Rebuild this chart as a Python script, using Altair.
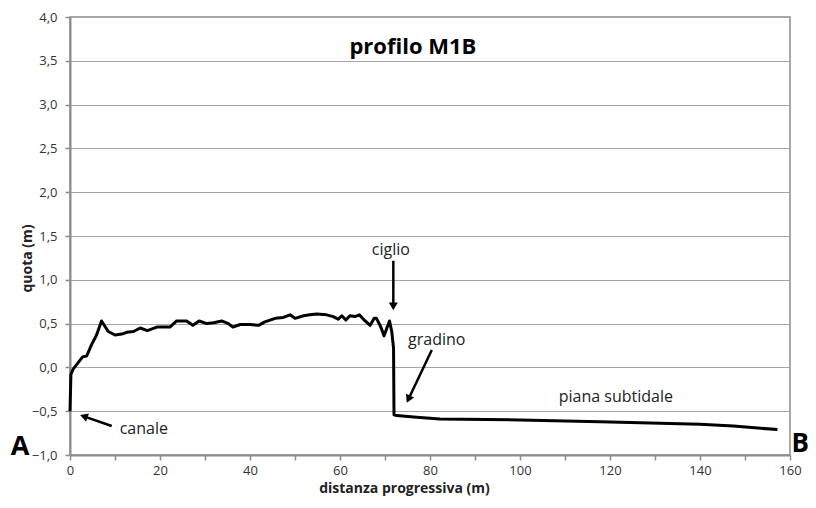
import altair as alt
import pandas as pd

# profile data (distanza progressiva, quota)
dist = [0, 0.2, 0.7, 2.8, 3.7, 4.8, 5.9, 7.0, 8.5, 10.0, 11.5, 12.6, 14.1, 15.6, 17.2,
        19.3, 22.2, 23.7, 25.9, 27.3, 28.7, 30.4, 31.9, 33.7, 35.2, 36.2, 37.8, 40.0,
        41.9, 43.3, 45.6, 47.4, 48.9, 50.0, 51.9, 53.3, 54.8, 57.0, 58.5, 59.6, 60.4,
        61.3, 62.2, 63.3, 64.3, 65.6, 66.7, 67.6, 68.1, 69.0, 69.8, 70.5, 71.0, 71.5,
        71.9, 72.0, 72.6, 77.0, 82.2, 100.0, 117.8, 140.0, 147.4, 157.2]
quota = [-0.50, -0.08, -0.02, 0.12, 0.13, 0.26, 0.37, 0.53, 0.41, 0.37, 0.38, 0.40, 0.41,
         0.45, 0.42, 0.46, 0.46, 0.53, 0.53, 0.48, 0.53, 0.50, 0.51, 0.53, 0.50, 0.46,
         0.49, 0.49, 0.48, 0.52, 0.56, 0.57, 0.60, 0.56, 0.59, 0.60, 0.61, 0.60, 0.58,
         0.55, 0.59, 0.54, 0.59, 0.58, 0.60, 0.53, 0.48, 0.56, 0.56, 0.47, 0.36, 0.46,
         0.53, 0.41, 0.22, -0.54, -0.55, -0.57, -0.59, -0.60, -0.62, -0.65, -0.67, -0.71]

x_ticks = list(range(0, 161, 10))
y_ticks = [-1.0, -0.5, 0.0, 0.5, 1.0, 1.5, 2.0, 2.5, 3.0, 3.5, 4.0]

# annotations
note_text = ["canale", "ciglio", "gradino", "piana subtidale"]
note_x = [16.4, 71.3, 81.5, 121.3]
note_y = [-0.70, 1.34, 0.31, -0.34]

bold_text = ["profilo M1B", "A", "B"]
bold_x = [76.2, -11.1, 162.3]
bold_y = [3.66, -0.91, -0.88]
bold_size = [22, 27, 26]

arrow_x1 = [9.27, 71.85, 80.4]
arrow_y1 = [-0.669, 1.217, 0.199]
arrow_x2 = [3.07, 71.85, 75.2]
arrow_y2 = [-0.559, 0.697, -0.363]
arrow_angle = [289, 180, 205]

FONT = "Open Sans"
GRID = "#a6a6a6"
AX = "#8c8c8c"

df = pd.DataFrame({"dist": dist, "quota": quota, "i": range(len(dist))})
notes = pd.DataFrame({"x": note_x, "y": note_y, "t": note_text})
bolds = pd.DataFrame({"x": bold_x, "y": bold_y, "t": bold_text, "s": bold_size})
arrows = pd.DataFrame({"x": arrow_x1, "y": arrow_y1, "x2": arrow_x2, "y2": arrow_y2,
                       "a": arrow_angle})

xs = alt.Scale(domain=[0, 160], nice=False, zero=False)
ys = alt.Scale(domain=[-1, 4], nice=False, zero=False)

x_axis = alt.Axis(values=x_ticks,
                  labelExpr="datum.value % 20 == 0 ? datum.label : ''",
                  labelFlush=False, labelOverlap=False,
                  grid=False, tickSize=5, tickColor=AX, tickWidth=1.5,
                  domainColor=AX, domainWidth=2,
                  labelFont=FONT, labelFontSize=13, labelColor="#333333", labelPadding=4,
                  title="distanza progressiva (m)", titleFont=FONT, titleFontSize=14,
                  titleFontWeight="bold", titleColor="#222222", titleX=334, titleY=26)
y_axis = alt.Axis(values=y_ticks,
                  labelExpr="replace(format(datum.value, '.1f'), '.', ',')",
                  labelFlush=False, labelOverlap=False,
                  grid=True, gridColor=GRID, gridWidth=1.2,
                  tickSize=5, tickColor=AX, tickWidth=1.5,
                  domainColor=AX, domainWidth=2,
                  labelFont=FONT, labelFontSize=13, labelColor="#333333", labelPadding=8,
                  title="quota (m)", titleFont=FONT, titleFontSize=14,
                  titleFontWeight="bold", titleColor="#222222", titleX=-36, titleY=241)

line = alt.Chart(df).mark_line(color="black", strokeWidth=3, strokeJoin="round").encode(
    x=alt.X("dist:Q", scale=xs, axis=x_axis),
    y=alt.Y("quota:Q", scale=ys, axis=y_axis),
    order="i:Q",
)

arrow_lines = alt.Chart(arrows).mark_rule(color="black", strokeWidth=2.5).encode(
    x=alt.X("x:Q", scale=xs), y=alt.Y("y:Q", scale=ys),
    x2="x2:Q", y2="y2:Q",
)
arrow_heads = alt.Chart(arrows).mark_point(shape="triangle-up", filled=True, opacity=1,
                                            color="black", size=80).encode(
    x=alt.X("x2:Q", scale=xs), y=alt.Y("y2:Q", scale=ys),
    angle=alt.Angle("a:Q", scale=None),
)

note_layer = alt.Chart(notes).mark_text(font=FONT, fontSize=16, color="#222222",
                                        align="center", baseline="middle").encode(
    x=alt.X("x:Q", scale=xs), y=alt.Y("y:Q", scale=ys), text="t:N",
)
bold_layer = alt.Chart(bolds).mark_text(font=FONT, fontWeight="bold", color="black",
                                        align="center", baseline="middle").encode(
    x=alt.X("x:Q", scale=xs), y=alt.Y("y:Q", scale=ys), text="t:N",
    size=alt.Size("s:Q", scale=None),
)

chart = alt.layer(line, arrow_lines, arrow_heads, note_layer, bold_layer).properties(
    width=720, height=438,
    padding={"left": 62, "top": 9, "right": 18, "bottom": 41},
    autosize=alt.AutoSizeParams(type="none"),
).configure_view(stroke=AX, strokeWidth=1.5)

chart.save("out.html", embed_options={"renderer": "svg", "actions": False})
